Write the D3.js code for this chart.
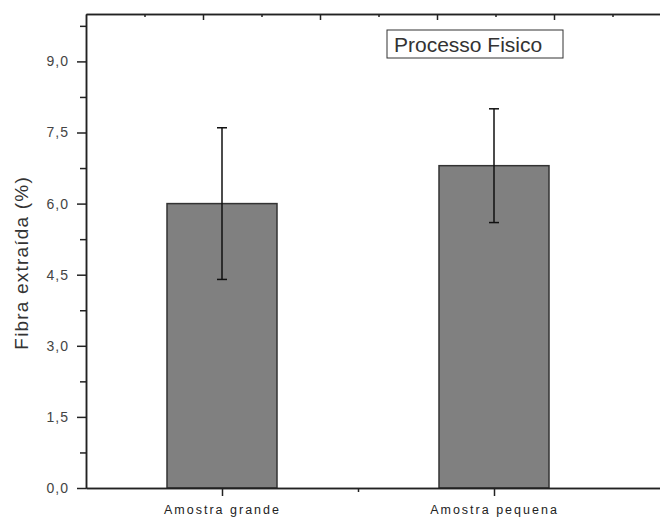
<!DOCTYPE html>
<html>
<head>
<meta charset="utf-8">
<script src="https://cdn.jsdelivr.net/npm/d3@7"></script>
<style>
  body { margin: 0; background: #fff; }
  svg { display: block; font-family: "Liberation Sans", Arial, sans-serif; }
</style>
</head>
<body>
<div id="chart"></div>
<script>
// data
var categories = ["Amostra grande", "Amostra pequena"];
var values = [6.0, 6.8];
var errors = [1.6, 1.2];
var yMajorTicks = [0, 1.5, 3, 4.5, 6, 7.5, 9];
var yMinorTicks = [0.75, 2.25, 3.75, 5.25, 6.75, 8.25, 9.75];
var legendText = "Processo Fisico";

var svgWidth = 660;
var svgHeight = 517;

var margin = { top: 14, right: 0, bottom: 29, left: 86 };
var plotWidth = svgWidth - margin.left - margin.right;
var plotHeight = svgHeight - margin.top - margin.bottom;

var svg = d3.select("#chart")
    .append("svg")
    .attr("width", svgWidth)
    .attr("height", svgHeight);

var chartGroup = svg.append("g")
    .attr("transform", `translate(${margin.left}, ${margin.top})`);

// categories sit at 1 and 2, 272px apart
var xScale = d3.scaleLinear()
    .domain([0.5, 0.5 + plotWidth / 272])
    .range([0, plotWidth]);

var yScale = d3.scaleLinear()
    .domain([0, 10])
    .range([plotHeight, 0]);

// top axis of the frame (no labels)
var topScale = d3.scaleLinear()
    .domain([0, 10])
    .range([0, 585]);

var barWidth = 110;
var fmt = d3.format(".1f");

// bars
chartGroup.selectAll("rect.bar")
    .data(values)
    .enter()
    .append("rect")
    .attr("class", "bar")
    .attr("x", (d, i) => xScale(i + 1) - barWidth / 2)
    .attr("y", d => yScale(d))
    .attr("width", barWidth)
    .attr("height", d => yScale(0) - yScale(d))
    .attr("fill", "#808080")
    .attr("stroke", "#333")
    .attr("stroke-width", 1.5);

// error bars
var errGroup = chartGroup.selectAll("g.err")
    .data(values)
    .enter()
    .append("g")
    .attr("class", "err")
    .attr("stroke", "#111")
    .attr("stroke-width", 1.5);

errGroup.append("line")
    .attr("x1", (d, i) => xScale(i + 1))
    .attr("x2", (d, i) => xScale(i + 1))
    .attr("y1", (d, i) => yScale(d + errors[i]))
    .attr("y2", (d, i) => yScale(d - errors[i]));

errGroup.append("line")
    .attr("x1", (d, i) => xScale(i + 1) - 5)
    .attr("x2", (d, i) => xScale(i + 1) + 5)
    .attr("y1", (d, i) => yScale(d + errors[i]))
    .attr("y2", (d, i) => yScale(d + errors[i]));

errGroup.append("line")
    .attr("x1", (d, i) => xScale(i + 1) - 5)
    .attr("x2", (d, i) => xScale(i + 1) + 5)
    .attr("y1", (d, i) => yScale(d - errors[i]))
    .attr("y2", (d, i) => yScale(d - errors[i]));

// y axis
var yMinor = chartGroup.append("g")
    .call(d3.axisLeft(yScale).tickValues(yMinorTicks).tickSize(6).tickFormat("").tickSizeOuter(0));

var yaxis = chartGroup.append("g")
    .call(d3.axisLeft(yScale)
        .tickValues(yMajorTicks)
        .tickSize(9)
        .tickSizeOuter(0)
        .tickPadding(8)
        .tickFormat(d => fmt(d).replace(".", ",")));

yaxis.selectAll("text")
    .attr("font-size", "14px")
    .attr("letter-spacing", "1px")
    .attr("fill", "#444");

// x axis
var xMinor = chartGroup.append("g")
    .attr("transform", `translate(0, ${plotHeight})`)
    .call(d3.axisBottom(xScale).tickValues([1.5]).tickSize(4).tickFormat("").tickSizeOuter(0));

var xaxis = chartGroup.append("g")
    .attr("transform", `translate(0, ${plotHeight})`)
    .call(d3.axisBottom(xScale)
        .tickValues([1, 2])
        .tickSize(8)
        .tickSizeOuter(0)
        .tickPadding(9)
        .tickFormat((d, i) => categories[i]));

xaxis.selectAll("text")
    .attr("font-size", "12.5px")
    .attr("letter-spacing", "2px")
    .attr("fill", "#222");

// top frame axis with inward ticks
var topMinor = chartGroup.append("g")
    .call(d3.axisTop(topScale).tickValues([1, 3, 5, 7, 9]).tickSize(-3).tickFormat("").tickSizeOuter(0));
var topMajor = chartGroup.append("g")
    .call(d3.axisTop(topScale).tickValues([2, 4, 6, 8]).tickSize(-6).tickFormat("").tickSizeOuter(0));

chartGroup.selectAll(".domain")
    .attr("stroke", "#222")
    .attr("stroke-width", 1.5);
chartGroup.selectAll(".tick line")
    .attr("stroke", "#222")
    .attr("stroke-width", 1.5);

// y label
svg.append("text")
    .attr("transform", `translate(28, ${margin.top + yScale(4.75)}) rotate(-90)`)
    .attr("text-anchor", "middle")
    .attr("font-size", "19px")
    .attr("letter-spacing", "1.2px")
    .attr("fill", "#333")
    .text("Fibra extraída (%)");

// legend box
var legend = svg.append("g")
    .attr("transform", "translate(387, 30)");

legend.append("rect")
    .attr("width", 176)
    .attr("height", 28)
    .attr("fill", "#fff")
    .attr("stroke", "#333")
    .attr("stroke-width", 1);

legend.append("text")
    .attr("x", 7)
    .attr("y", 22)
    .attr("font-size", "21px")
    .attr("fill", "#333")
    .text(legendText);
</script>
</body>
</html>
